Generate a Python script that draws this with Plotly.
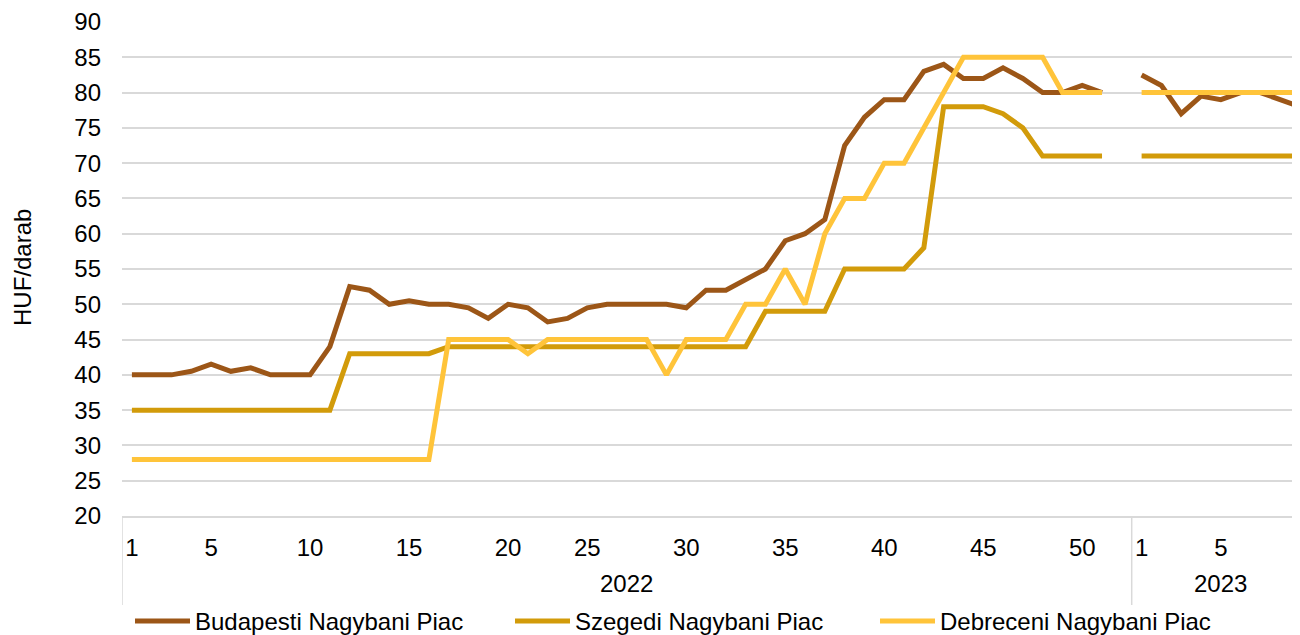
import plotly.graph_objects as go

# ---- categories / tick labels ----
weeks_2022 = [1, 2, 3, 4, 5, 6, 7, 8, 9, 10, 11, 12, 13, 14, 15, 16, 17, 18, 19, 20,
              21, 22, 23, 25, 26, 27, 28, 29, 30, 31, 32, 33, 34, 35, 36, 37, 38, 39, 40,
              41, 42, 43, 44, 45, 46, 47, 48, 49, 50, 51, 52]
weeks_2023 = [1, 2, 3, 4, 5, 6, 7, 8, 9]
years = ["2022", "2023"]
shown_ticks_2022 = [1, 5, 10, 15, 20, 25, 30, 35, 40, 45, 50]
shown_ticks_2023 = [1, 5]

# ---- series (HUF/darab) ----
budapest_2022 = [40, 40, 40, 40.5, 41.5, 40.5, 41, 40, 40, 40, 44, 52.5, 52, 50, 50.5, 50, 50,
                 49.5, 48, 50, 49.5, 47.5, 48, 49.5, 50, 50, 50, 50, 49.5, 52, 52, 53.5, 55,
                 59, 60, 62, 72.5, 76.5, 79, 79, 83, 84, 82, 82, 83.5, 82, 80, 80, 81, 80, None]
budapest_2023 = [82.5, 81, 77, 79.5, 79, 80, 80, 79, 78]

szeged_2022 = [35, 35, 35, 35, 35, 35, 35, 35, 35, 35, 35, 43, 43, 43, 43, 43, 44, 44, 44, 44,
               44, 44, 44, 44, 44, 44, 44, 44, 44, 44, 44, 44, 49, 49, 49, 49, 55, 55, 55, 55,
               58, 78, 78, 78, 77, 75, 71, 71, 71, 71, None]
szeged_2023 = [71, 71, 71, 71, 71, 71, 71, 71, 71]

debrecen_2022 = [28, 28, 28, 28, 28, 28, 28, 28, 28, 28, 28, 28, 28, 28, 28, 28, 45, 45, 45, 45,
                 43, 45, 45, 45, 45, 45, 45, 40, 45, 45, 45, 50, 50, 55, 50, 60, 65, 65, 70, 70,
                 75, 80, 85, 85, 85, 85, 85, 80, 80, 80, None]
debrecen_2023 = [80, 80, 80, 80, 80, 80, 80, 80, 80]

series_names = ["Budapesti Nagybani Piac", "Szegedi Nagybani Piac", "Debreceni Nagybani Piac"]
series_colors = ["#9C5617", "#D29B0A", "#FFC43A"]

n22 = len(weeks_2022)
n23 = len(weeks_2023)
xs = list(range(n22 + n23))

FONT = "Liberation Sans, Arial, sans-serif"
FS = 24
LW = 5

# page body has an 8px margin: figure is 8px smaller and margins compensate
OFF = 8
W, H = 1300 - OFF, 635 - OFF
ML, MR, MT, MB = 122 - OFF, 0, 22 - OFF, 119
PW, PH = W - ML - MR, H - MT - MB


def px_x(p):  # screen pixel -> paper x
    return (p - OFF - ML) / PW


def px_y(p):  # screen pixel -> paper y
    return (OFF + H - MB - p) / PH


fig = go.Figure()
for name, color, v22, v23 in zip(series_names, series_colors,
                                  [budapest_2022, szeged_2022, debrecen_2022],
                                  [budapest_2023, szeged_2023, debrecen_2023]):
    fig.add_trace(go.Scatter(x=xs, y=v22 + v23, mode="lines", name=name,
                             line=dict(color=color, width=LW),
                             connectgaps=False, showlegend=False))

tickvals = [weeks_2022.index(w) for w in shown_ticks_2022] + \
           [n22 + weeks_2023.index(w) for w in shown_ticks_2023]
ticktext = [str(w) for w in shown_ticks_2022] + [str(w) for w in shown_ticks_2023]

fig.update_layout(
    width=W, height=H,
    margin=dict(l=ML, r=MR, t=MT, b=MB),
    plot_bgcolor="white", paper_bgcolor="white",
    font=dict(family=FONT, size=FS, color="#000000"),
    showlegend=False,
    xaxis=dict(range=[-0.5, n22 + n23 - 1], tickmode="array", tickvals=tickvals,
               ticktext=ticktext, showgrid=False, zeroline=False, automargin=False,
               showline=True, linecolor="#D9D9D9", linewidth=1.5,
               ticks="", ticklabelstandoff=9,
               tickfont=dict(family=FONT, size=FS, color="#000000")),
    yaxis=dict(range=[20, 90], dtick=5, tick0=20, showgrid=True, gridcolor="#D9D9D9",
               gridwidth=1.5, zeroline=False, showline=False, ticks="", automargin=False,
               ticklabelstandoff=20,
               tickfont=dict(family=FONT, size=FS, color="#000000")),
)

# group dividers of the two-level category axis
for xb in [-0.5, n22 - 0.5]:
    fig.add_shape(type="line", xref="x", yref="paper", x0=xb, x1=xb, y0=0, y1=px_y(605),
                  line=dict(color="#D9D9D9", width=1.5))

# year labels
group_bounds = [(-0.5, n22 - 0.5), (n22 - 0.5, n22 + n23 - 0.5)]
for yr, (a, b) in zip(years, group_bounds):
    fig.add_annotation(x=(a + b) / 2, y=px_y(583), xref="x", yref="paper", text=yr,
                       showarrow=False, yanchor="middle",
                       font=dict(family=FONT, size=FS, color="#000000"))

# y-axis title
fig.add_annotation(x=px_x(22), y=px_y(268), xref="paper", yref="paper", text="HUF/darab",
                   textangle=-90, showarrow=False, xanchor="center", yanchor="middle",
                   font=dict(family=FONT, size=FS, color="#000000"))

# legend (line swatch + label)
legend_x = [135, 515, 880]
legend_y = 621
for name, color, lx in zip(series_names, series_colors, legend_x):
    fig.add_shape(type="line", xref="paper", yref="paper",
                  x0=px_x(lx), x1=px_x(lx + 55), y0=px_y(legend_y), y1=px_y(legend_y),
                  line=dict(color=color, width=LW))
    fig.add_annotation(x=px_x(lx + 58), y=px_y(legend_y), xref="paper", yref="paper",
                       text=name, showarrow=False, xanchor="left", yanchor="middle",
                       font=dict(family=FONT, size=FS, color="#000000"))

fig.write_html("out.html")
